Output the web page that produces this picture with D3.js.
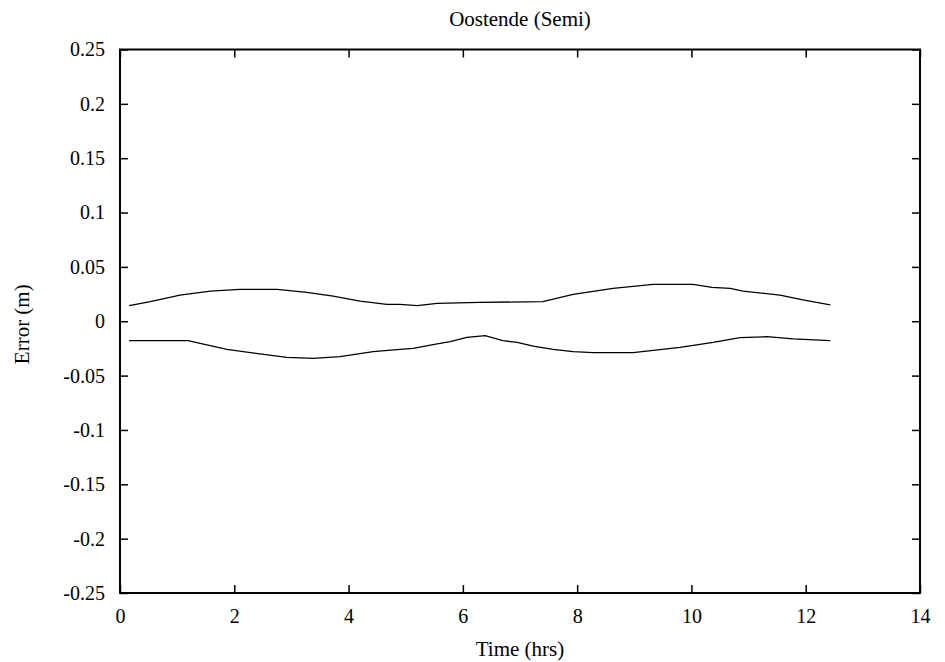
<!DOCTYPE html>
<html>
<head>
<meta charset="utf-8">
<script src="https://cdn.jsdelivr.net/npm/d3@7/dist/d3.min.js"></script>
<style>
  body { margin: 0; background: #fff; }
  svg { display: block; }
  text { font-family: "Liberation Serif", "Times New Roman", serif; fill: #000; }
</style>
</head>
<body>
<svg id="chart" width="945" height="662"></svg>
<script>
// Upper and lower error envelopes over one tidal cycle
const upperTime = [0.16, 0.53, 1.05, 1.58, 2.10, 2.75, 3.27, 3.73, 4.20, 4.67, 4.90, 5.20, 5.55, 6.30, 7.40, 7.93, 8.63, 9.33, 10.03, 10.36, 10.68, 10.90, 11.55, 11.95, 12.43];
const upperError = [0.0143, 0.018, 0.0241, 0.0278, 0.0294, 0.0294, 0.0266, 0.0232, 0.0186, 0.0156, 0.0156, 0.0143, 0.0165, 0.0174, 0.018, 0.0248, 0.0303, 0.034, 0.034, 0.0312, 0.0303, 0.0278, 0.0241, 0.0196, 0.015];

const lowerTime = [0.16, 1.19, 1.87, 2.45, 2.92, 3.38, 3.85, 4.43, 4.90, 5.13, 5.55, 5.78, 6.07, 6.39, 6.70, 6.95, 7.23, 7.58, 7.93, 8.28, 8.98, 9.80, 10.38, 10.85, 11.32, 11.78, 12.43];
const lowerError = [-0.0179, -0.0179, -0.0258, -0.0301, -0.0332, -0.0341, -0.0326, -0.028, -0.0258, -0.0249, -0.0209, -0.0188, -0.0148, -0.0133, -0.0179, -0.0194, -0.0228, -0.0258, -0.028, -0.0289, -0.0289, -0.024, -0.0194, -0.0151, -0.0142, -0.0163, -0.0179];

const xTicks = [0, 2, 4, 6, 8, 10, 12, 14];
const yTicks = [-0.25, -0.2, -0.15, -0.1, -0.05, 0, 0.05, 0.1, 0.15, 0.2, 0.25];

const titleText = "Oostende (Semi)";
const xLabel = "Time (hrs)";
const yLabel = "Error (m)";

const serif = '"Liberation Serif", "Times New Roman", serif';
const svg = d3.select("#chart");
const plotLeft = 120, plotRight = 920, plotTop = 49.5, plotBottom = 593;

const x = d3.scaleLinear().domain([0, 14]).range([plotLeft, plotRight]);
const y = d3.scaleLinear().domain([-0.25, 0.25]).range([plotBottom, plotTop]);

const tickLen = 8;
const fmt = d => (d === 0 ? "0" : String(+d.toFixed(2)));

// Axes with inward ticks on all four sides
const axes = [
  svg.append("g").attr("transform", `translate(0,${plotBottom})`)
    .call(d3.axisBottom(x).tickValues(xTicks).tickSizeInner(-tickLen).tickSizeOuter(0).tickPadding(16).tickFormat(fmt)),
  svg.append("g").attr("transform", `translate(0,${plotTop})`)
    .call(d3.axisTop(x).tickValues(xTicks).tickSizeInner(-tickLen).tickSizeOuter(0).tickFormat("")),
  svg.append("g").attr("transform", `translate(${plotLeft},0)`)
    .call(d3.axisLeft(y).tickValues(yTicks).tickSizeInner(-tickLen).tickSizeOuter(0).tickPadding(15).tickFormat(fmt)),
  svg.append("g").attr("transform", `translate(${plotRight},0)`)
    .call(d3.axisRight(y).tickValues(yTicks).tickSizeInner(-tickLen).tickSizeOuter(0).tickFormat(""))
];
axes.forEach(g => g.attr("font-family", serif).attr("font-size", 20));

svg.selectAll(".domain").remove();
svg.selectAll(".tick line").attr("stroke", "#000").attr("stroke-width", 1.5);
svg.selectAll(".tick text").attr("fill", "#000")
  .style("font-family", serif).style("font-size", "20px");

// Frame
svg.append("rect")
  .attr("x", plotLeft).attr("y", plotTop)
  .attr("width", plotRight - plotLeft).attr("height", plotBottom - plotTop)
  .attr("fill", "none").attr("stroke", "#000").attr("stroke-width", 2);

// Error curves
const line = d3.line().x(d => x(d[0])).y(d => y(d[1]));
const series = [
  d3.zip(upperTime, upperError),
  d3.zip(lowerTime, lowerError)
];
svg.selectAll("path.curve").data(series).enter().append("path")
  .attr("class", "curve")
  .attr("d", line)
  .attr("fill", "none")
  .attr("stroke", "#000")
  .attr("stroke-width", 1.3);

// Titles
svg.append("text").attr("x", (plotLeft + plotRight) / 2).attr("y", 26)
  .attr("text-anchor", "middle").style("font-size", "21px").text(titleText);
svg.append("text").attr("x", (plotLeft + plotRight) / 2).attr("y", 656)
  .attr("text-anchor", "middle").style("font-size", "21px").text(xLabel);
svg.append("text")
  .attr("transform", `translate(29,${(plotTop + plotBottom) / 2 + 3}) rotate(-90)`)
  .attr("text-anchor", "middle").style("font-size", "21px").text(yLabel);
</script>
</body>
</html>
